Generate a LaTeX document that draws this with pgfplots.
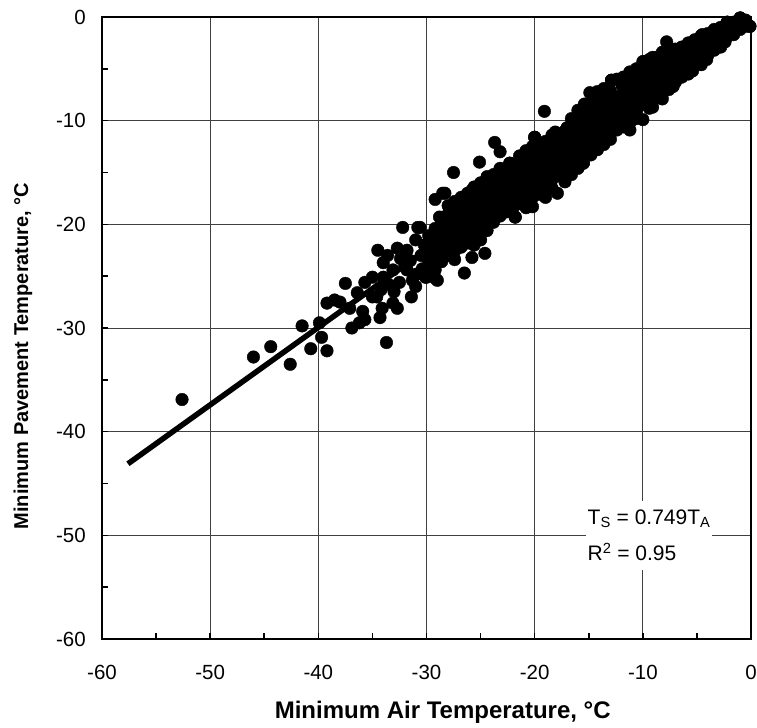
\documentclass[border=0pt]{standalone}
\usepackage{fontspec}
\setmainfont{Liberation Sans}
\usepackage{pgfplots}
\pgfplotsset{compat=1.18}
\begin{document}
\begin{tikzpicture}
\begin{axis}[name=ax, scale only axis, width=649pt, height=622pt,
  xmin=-60, xmax=0, ymin=-60, ymax=0,
  xtick={-60,-50,-40,-30,-20,-10,0}, ytick={-60,-50,-40,-30,-20,-10,0},
  xticklabels={-60,-50,-40,-30,-20,-10,0},
  yticklabels={-60,-50,-40,-30,-20,-10,0},
  minor tick num=1,
  grid=major, major grid style={black!75, line width=0.8pt},
  tick pos=left, tick align=inside,
  major tick length=6pt, minor tick length=6pt,
  every tick/.style={black, line width=1.6pt},
  axis line style={line width=2pt},
  clip=false,
  ticklabel style={font=\fontsize{20.5}{24}\selectfont, inner sep=0pt},
  xticklabel style={anchor=center, yshift=-33pt},
  yticklabel style={anchor=east, xshift=-16pt},
  xlabel={Minimum Air Temperature, °C},
  ylabel={Minimum Pavement Temperature, °C},
  xlabel style={at={(axis description cs:0.525,-0.1174)}, anchor=center, font=\bfseries\fontsize{24}{28}\selectfont},
  ylabel style={at={(axis description cs:-0.1217,0.455)}, anchor=center, font=\bfseries\fontsize{20}{24}\selectfont},
]
\addplot[black, line width=5.5pt] coordinates {(-57.6,-43.1) (-0.5,-0.4)};
\addplot[only marks, mark=*, mark size=6.3pt, black] coordinates {
(-0.5,-0.3) (-0.5,-0.9) (-0.1,-0.9) (-1.0,-0.1)
(-1.0,-0.1) (-1.0,-0.6) (-1.0,-1.2)
(-1.6,-0.5) (-1.6,-1.1) (-1.6,-1.7)
(-2.2,-0.5) (-2.2,-1.2) (-2.2,-1.9) (-2.4,-2.4)
(-2.8,-1.0) (-2.8,-1.6) (-2.8,-2.3) (-2.8,-2.9)
(-3.4,-1.2) (-3.4,-1.9) (-3.4,-2.6) (-3.4,-3.2)
(-4.0,-1.6) (-4.0,-2.3) (-4.0,-3.0) (-4.0,-3.7) (-4.1,-4.1)
(-4.6,-1.8) (-4.6,-2.6) (-4.6,-3.3) (-4.6,-4.0) (-4.6,-4.6)
(-5.2,-2.2) (-5.2,-2.9) (-5.2,-3.6) (-5.2,-4.3) (-5.4,-5.2)
(-5.8,-2.5) (-5.8,-3.3) (-5.8,-4.0) (-5.8,-4.7) (-5.8,-5.5)
(-6.4,-2.9) (-6.4,-3.6) (-6.4,-4.4) (-6.4,-5.1) (-6.4,-5.8)
(-7.0,-3.1) (-7.0,-3.9) (-7.0,-4.7) (-7.0,-5.5) (-7.0,-6.3) (-7.2,-6.7)
(-7.6,-3.0) (-7.6,-3.8) (-7.6,-4.6) (-7.6,-5.4) (-7.6,-6.2) (-7.6,-7.0)
(-8.2,-3.4) (-8.2,-4.2) (-8.2,-5.0) (-8.2,-5.8) (-8.2,-6.6) (-8.2,-7.4) (-8.2,-7.9)
(-8.8,-3.9) (-8.8,-4.6) (-8.8,-5.4) (-8.8,-6.2) (-8.8,-7.0) (-8.8,-7.8) (-9.1,-8.7)
(-9.4,-4.1) (-9.4,-4.9) (-9.4,-5.7) (-9.4,-6.5) (-9.4,-7.3) (-9.4,-8.1) (-9.4,-8.8)
(-10.0,-4.3) (-10.0,-5.2) (-10.0,-6.0) (-10.0,-6.8) (-10.0,-7.6) (-10.0,-8.4) (-10.0,-9.9)
(-10.6,-5.0) (-10.6,-5.8) (-10.6,-6.6) (-10.6,-7.4) (-10.6,-8.2) (-10.6,-9.0) (-10.6,-9.8)
(-11.2,-5.3) (-11.2,-6.2) (-11.2,-7.0) (-11.2,-7.8) (-11.2,-8.6) (-11.2,-9.4) (-11.2,-10.2) (-11.2,-10.9)
(-11.8,-5.8) (-11.9,-6.6) (-11.8,-7.4) (-11.8,-8.2) (-11.8,-9.0) (-11.8,-9.8) (-11.8,-10.6)
(-12.4,-6.0) (-12.9,-6.1) (-12.4,-7.7) (-12.4,-8.5) (-12.4,-9.3) (-12.4,-10.1) (-12.4,-10.9)
(-13.0,-7.1) (-13.0,-7.9) (-13.0,-8.8) (-13.0,-9.6) (-13.0,-10.4) (-13.0,-11.2) (-13.0,-11.8)
(-13.6,-6.9) (-13.6,-7.5) (-13.6,-8.3) (-13.6,-9.2) (-13.6,-10.0) (-13.6,-10.8) (-13.6,-11.6) (-13.6,-12.3)
(-14.2,-7.2) (-14.2,-7.9) (-14.2,-8.7) (-14.2,-9.6) (-14.2,-10.4) (-14.2,-11.2) (-14.2,-12.0) (-14.2,-12.8)
(-14.9,-7.3) (-14.8,-8.3) (-14.8,-9.2) (-14.8,-10.0) (-14.8,-10.9) (-14.8,-11.7) (-14.8,-12.5) (-14.8,-13.3)
(-15.4,-8.4) (-15.4,-8.9) (-15.4,-9.7) (-15.4,-10.6) (-15.4,-11.4) (-15.4,-12.2) (-15.4,-13.0) (-15.5,-14.1)
(-16.0,-9.0) (-16.1,-10.6) (-16.0,-9.9) (-16.0,-11.5) (-16.0,-12.3) (-16.0,-13.1) (-16.0,-13.9) (-16.0,-14.6)
(-16.6,-9.8) (-16.6,-10.6) (-16.6,-11.4) (-16.6,-12.2) (-16.6,-13.0) (-16.6,-13.8) (-17.0,-14.8) (-16.6,-15.2)
(-17.0,-10.7) (-17.2,-11.0) (-17.2,-11.8) (-17.2,-12.6) (-17.2,-13.4) (-17.2,-14.2) (-17.2,-15.0) (-17.2,-15.9)
(-18.1,-11.1) (-17.8,-11.3) (-17.8,-12.1) (-17.8,-12.9) (-17.8,-13.7) (-17.8,-14.5) (-17.8,-15.3) (-17.9,-17.0)
(-18.4,-11.4) (-18.4,-11.6) (-18.4,-12.5) (-18.4,-13.3) (-18.4,-14.1) (-18.4,-14.9) (-18.4,-15.7) (-18.4,-16.5)
(-19.1,-9.1) (-19.0,-12.0) (-19.0,-12.8) (-19.0,-13.6) (-19.0,-14.4) (-19.0,-15.2) (-19.0,-16.0) (-19.0,-16.8) (-19.0,-17.4)
(-20.0,-11.6) (-19.6,-12.2) (-19.6,-13.1) (-19.6,-13.9) (-19.6,-14.7) (-19.6,-15.5) (-19.6,-16.3) (-19.6,-17.1) (-20.2,-18.3)
(-20.2,-12.5) (-20.2,-13.4) (-20.2,-14.2) (-20.2,-15.0) (-20.2,-15.8) (-20.2,-16.6) (-20.2,-17.4)
(-20.8,-12.9) (-20.8,-13.7) (-20.8,-14.5) (-20.8,-15.3) (-20.8,-16.1) (-20.8,-16.9) (-20.8,-17.7) (-20.8,-18.4)
(-21.4,-13.4) (-21.4,-14.0) (-21.4,-14.8) (-21.4,-15.6) (-21.4,-16.4) (-21.4,-17.2) (-21.4,-18.0) (-21.8,-19.3)
(-22.3,-14.1) (-22.0,-14.4) (-22.0,-15.2) (-22.0,-16.0) (-22.0,-16.8) (-22.0,-17.6) (-22.0,-18.4)
(-22.6,-14.6) (-22.6,-14.8) (-22.6,-15.6) (-22.6,-16.4) (-22.6,-17.2) (-22.6,-18.0) (-22.6,-18.8)
(-23.2,-14.6) (-23.2,-15.2) (-23.2,-16.0) (-23.2,-16.8) (-23.2,-17.6) (-23.2,-18.4) (-23.2,-19.2)
(-23.8,-15.2) (-23.8,-15.8) (-23.8,-16.6) (-23.8,-17.4) (-23.8,-18.2) (-23.8,-19.0) (-23.8,-19.8)
(-24.4,-15.4) (-24.4,-15.8) (-24.4,-16.6) (-24.4,-17.4) (-24.4,-18.2) (-24.4,-19.0) (-24.4,-19.8) (-24.4,-20.6)
(-25.0,-16.0) (-25.0,-16.8) (-25.0,-17.6) (-25.0,-18.4) (-25.0,-19.2) (-25.0,-20.0) (-25.0,-20.8) (-25.0,-21.5)
(-25.6,-16.4) (-25.6,-17.2) (-25.6,-18.0) (-25.6,-18.8) (-25.6,-19.6) (-25.6,-20.4) (-25.6,-21.2) (-25.6,-22.0)
(-26.2,-17.0) (-26.2,-17.8) (-26.2,-18.6) (-26.2,-19.4) (-26.2,-20.2) (-26.2,-21.0) (-26.2,-21.8)
(-26.8,-17.4) (-26.8,-18.2) (-26.8,-19.0) (-26.8,-19.8) (-26.8,-20.6) (-26.8,-21.4) (-26.8,-22.2)
(-27.4,-17.8) (-27.4,-18.6) (-27.4,-19.4) (-27.4,-20.2) (-27.4,-21.0) (-27.4,-21.8) (-27.4,-22.6) (-27.4,-23.4)
(-28.0,-18.2) (-28.0,-19.0) (-28.0,-19.8) (-28.0,-20.6) (-28.0,-21.4) (-28.0,-22.2) (-28.0,-23.0)
(-28.6,-19.6) (-28.6,-20.4) (-28.6,-21.2) (-28.6,-22.0) (-28.6,-22.8) (-28.6,-23.6)
(-29.2,-20.4) (-29.2,-21.2) (-29.2,-22.0) (-29.2,-22.8) (-29.2,-23.6) (-29.2,-24.4)
(-29.8,-21.1) (-29.8,-21.9) (-29.8,-22.7) (-29.8,-23.5) (-29.8,-24.3)
(-23.7,-12.1) (-23.2,-13.0) (-25.1,-14.0) (-27.5,-15.0) (-28.3,-17.0) (-25.8,-16.7)
(-24.6,-22.8) (-25.8,-23.2) (-26.5,-24.7) (-21.8,-19.3) (-22.3,-14.1) (-20.0,-11.6)
(-16.1,-10.6) (-17.0,-10.7) (-15.5,-14.1) (-12.9,-6.1) (-11.9,-6.6) (-7.8,-2.4) (-8.1,-3.4)
(-9.9,-4.3) (-9.1,-3.9) (-6.6,-3.2) (-4.5,-1.7) (-2.2,-0.5) (-1.0,-0.1) (-0.1,-0.9)
(-37.5,-25.7) (-36.4,-26.6) (-35.7,-25.6) (-35.0,-25.1) (-34.0,-25.1) (-34.6,-27.0)
(-34.1,-28.1) (-33.7,-31.4) (-33.1,-27.6) (-32.7,-28.1) (-34.5,-22.5) (-32.7,-22.3)
(-34.0,-23.7) (-32.2,-20.3) (-30.6,-20.3) (-31.8,-22.5) (-33.1,-24.4) (-31.8,-24.4)
(-31.3,-25.4) (-31.4,-27.0) (-30.1,-25.1) (-29.2,-25.2) (-29.5,-23.4) (-29.7,-21.5)
(-28.6,-20.8) (-29.2,-17.6) (-28.8,-19.3) (-28.5,-17.0) (-30.8,-20.3)
(-30.0,-25.1) (-29.0,-25.4) (-34.3,-29.0) (-35.7,-29.2) (-36.9,-30.0) (-36.2,-29.5)
(-35.9,-28.4) (-37.1,-28.1) (-38.0,-27.5) (-38.5,-27.3) (-39.2,-27.6) (-39.9,-29.5)
(-41.5,-29.8) (-39.7,-30.9) (-39.2,-32.2) (-40.7,-32.0) (-42.6,-33.5) (-44.4,-31.8)
(-46.0,-32.8) (-52.6,-36.9)
(-35.0,-27.0) (-34.2,-26.3) (-33.5,-25.8) (-33.0,-26.5) (-32.5,-25.6) (-32.0,-24.0)
(-31.5,-23.5) (-30.9,-24.8) (-30.5,-23.0) (-30.2,-22.0) (-31.0,-21.5) (-33.6,-23.0)
(-32.4,-23.3) (-31.0,-26.0) (-30.4,-24.3)
};
\node[fill=white, inner xsep=2pt, inner ysep=9pt, anchor=west, align=left,
  font=\fontsize{21}{36}\selectfont] at (axis cs:-15.3,-50)
  {T\textsubscript{S} = 0.749T\textsubscript{A}\\R\textsuperscript{2} = 0.95};
\end{axis}
\pgfresetboundingbox
\path ([xshift=-102pt,yshift=-89pt]ax.south west) rectangle ([xshift=6pt,yshift=17pt]ax.north east);
\end{tikzpicture}
\end{document}
